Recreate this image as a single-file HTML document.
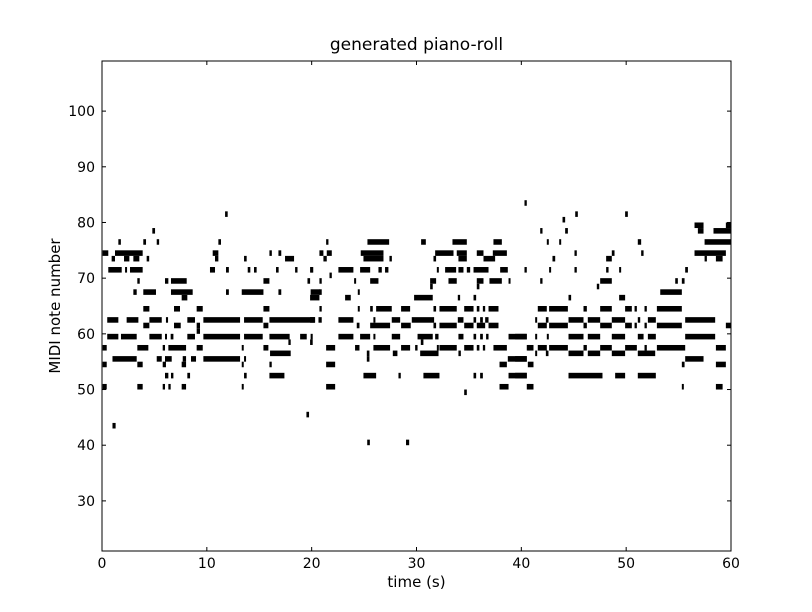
<!DOCTYPE html>
<html><head><meta charset="utf-8"><style>
html,body{margin:0;padding:0;background:#fff;}
svg{display:block;font-family:"DejaVu Sans","Liberation Sans",sans-serif;}
</style></head><body>
<svg id="chart" width="812" height="612" viewBox="0 0 812 612" xmlns="http://www.w3.org/2000/svg">
<rect x="0" y="0" width="812" height="612" fill="#fff"/>
<text x="416.5" y="50" font-size="17" text-anchor="middle">generated piano-roll</text>
<g id="notes"></g>
<g id="axes"></g>
<text x="416.5" y="587" font-size="15" text-anchor="middle">time (s)</text>
<text x="0" y="0" font-size="15" text-anchor="middle" transform="translate(60,306) rotate(-90)">MIDI note number</text>
</svg>
<script>
const xTicks = [0,10,20,30,40,50,60];
const yTicks = [30,40,50,60,70,80,90,100];
const xDomain = [0,60];
const yDomain = [21,109];
// notes: [pitch, start(s), end(s)]
const notes = [
[81,11.74,11.99],[78,4.8,5.06],[76,1.56,1.8],[76,3.94,4.2],[76,5.22,5.45],[76,11.1,11.35],
[74,0.06,0.6],[74,1.24,3.88],[74,10.56,11.1],[74,15.97,16.2],[74,16.83,17.1],
[73,0.92,1.24],[73,2.1,2.61],[73,2.99,3.56],[73,4.26,4.5],[73,10.78,11.1],[73,13.55,13.8],[73,17.46,18.32],
[71,0.6,1.88],[71,2.2,2.35],[71,2.67,3.88],[71,10.3,10.78],[71,11.83,12.1],[71,13.9,14.15],[71,14.5,14.75],[71,16.6,16.85],[71,18.42,18.65],[71,19.9,20.15],
[69,3.37,3.6],[69,6.01,6.33],[69,6.58,8.08],[69,15.4,15.97],[69,19.6,19.85],
[67,2.99,3.31],[67,3.94,5.15],[67,6.58,8.65],[66,7.6,8.14],[67,11.83,12.1],[67,13.33,15.4],[67,16.83,17.1],[67,19.9,20.8],
[64,3.94,4.52],[64,6.87,7.44],[64,9.03,9.61],[64,15.4,15.97],
[62,0.5,1.56],[62,2.35,3.47],[62,4.52,5.7],[62,6.1,6.3],[62,8.14,8.87],[62,9.67,13.17],[62,13.55,15.33],[62,15.97,20.3],
[61,3.94,4.52],[61,6.87,7.51],[61,9.03,9.35],[60,9.03,9.35],[61,15.4,15.87],
[59,0.5,1.56],[59,1.81,3.31],[59,4.52,5.7],[59,6.01,6.2],[59,6.55,6.81],[59,8.14,8.87],[59,9.67,13.17],[59,13.55,15.33],[59,15.97,17.9],[58,17.78,18.0],[59,18.9,19.53],[59,19.9,20.1],
[57,0.06,0.45],[57,3.37,4.42],[57,5.79,6.01],[57,6.33,8.02],[57,9.03,9.61],[57,13.33,13.49],[57,15.4,15.87],
[56,16.03,18.0],
[55,1.0,3.31],[55,5.22,5.7],[55,6.01,6.65],[55,7.7,8.02],[55,8.49,8.97],[55,9.67,13.17],[55,13.55,13.71],
[54,0.06,0.45],[54,3.37,3.88],[54,5.79,6.1],[54,7.6,8.02],[54,13.33,13.49],[54,15.97,16.19],
[52,6.01,6.33],[52,6.58,6.81],[52,8.14,8.4],[52,13.55,13.8],[52,15.97,17.4],
[50,0.06,0.45],[50,3.37,3.88],[50,5.79,6.01],[50,6.33,6.55],[50,7.6,8.02],[50,13.33,13.49],
[43,1.0,1.3],[45,19.5,19.75],
[83,40.3,40.52],
[76,21.38,21.6],[76,25.32,27.39],[76,30.44,30.89],[76,33.43,34.8],[76,37.34,38.14],
[74,20.74,21.12],[74,21.44,21.92],[74,24.68,26.85],[74,31.78,33.53],[74,33.84,34.8],[74,35.75,36.39],[74,37.28,38.62],
[73,21.12,21.44],[73,24.94,26.85],[73,27.42,27.65],[73,31.62,31.87],[73,34.0,34.8],[73,36.39,37.5],
[71,19.85,20.1],[71,22.55,23.98],[71,24.62,25.58],[71,26.37,26.69],[71,27.0,27.32],[71,31.94,32.1],[71,32.73,33.78],[71,34.0,34.48],[71,34.8,35.12],[71,35.44,36.87],[71,37.98,38.71],[71,40.3,40.52],
[70,21.7,21.92],
[69,20.74,20.96],[69,24.05,24.24],[69,25.58,26.37],[69,31.3,31.87],[68,31.3,31.55],[69,33.05,33.84],[69,35.75,36.39],[68,35.75,36.0],[69,36.96,38.14],[69,38.78,38.93],
[67,20.74,20.96],[67,24.4,24.56],
[66,19.85,20.74],[66,23.19,23.73],[66,29.77,31.55],[66,33.94,34.16],[66,35.44,35.69],
[64,20.74,20.96],[64,24.4,24.56],[64,25.58,25.83],[64,26.15,27.64],[64,28.53,29.39],[64,31.62,31.87],[64,32.19,33.84],[64,34.55,35.44],[64,35.75,36.0],[64,36.33,36.55],[64,36.87,37.82],
[62,19.85,20.33],[62,20.65,20.96],[62,22.55,23.98],[62,25.89,26.05],[62,27.64,28.44],[62,29.55,31.68],[62,33.94,34.48],[62,35.44,35.69],[62,36.07,36.33],[62,36.55,36.87],
[61,24.3,24.56],[61,25.58,27.48],[61,28.53,29.45],[61,31.62,31.87],[61,32.19,33.84],[61,34.55,35.44],[61,35.75,36.55],[61,36.87,37.82],
[59,22.55,23.98],[59,24.62,25.58],[59,25.89,26.05],[59,27.64,28.44],[59,30.1,31.55],[59,31.78,32.1],[59,34.0,34.48],[59,35.44,35.69],[59,36.07,36.33],[59,36.64,36.87],[59,38.78,40.52],
[58,19.85,20.1],[58,30.41,30.66],
[57,21.38,22.24],[57,24.14,24.56],[57,25.89,27.48],[57,28.53,29.39],[57,29.87,30.1],[57,31.94,32.1],[57,32.19,33.84],[57,34.55,35.44],[57,35.75,36.0],[57,36.33,36.55],[57,37.34,38.62],[57,40.52,40.84],
[56,25.26,25.51],[56,27.74,28.18],[56,30.35,32.1],[56,34.0,34.23],[55,25.26,25.51],
[54,21.38,22.24],[54,37.92,38.62],[55,38.71,40.52],
[52,24.94,26.15],[52,28.28,28.5],[52,30.66,32.19],[52,35.44,35.69],[52,36.07,36.33],[52,38.78,40.52],
[50,21.38,22.24],[50,37.92,38.78],[50,40.52,40.84],
[49,34.55,34.8],[40,25.3,25.55],[40,29.0,29.3],
[81,45.14,45.39],[81,49.9,50.16],[80,43.93,44.18],
[79,56.52,57.38],[79,59.51,60],
[78,41.8,42.02],[78,44.18,44.44],[78,56.84,57.38],[78,58.33,60],
[76,42.43,42.6],[76,43.61,43.8],[76,51.11,51.43],[76,57.48,60],
[74,45.07,45.29],[74,48.63,48.89],[74,51.43,51.66],[74,56.52,59.51],
[73,42.97,43.23],[73,48.09,48.63],[73,57.48,57.7],[73,58.56,59.2],
[71,42.65,42.84],[71,45.07,45.29],[71,48.09,48.32],[71,49.33,49.52],[71,55.63,55.89],
[69,41.8,42.02],[69,47.52,48.63],[68,47.2,47.43],[69,54.68,54.93],[69,55.31,55.57],
[67,53.25,55.31],[66,44.5,44.75],[66,49.33,49.9],
[64,41.57,42.43],[64,42.65,44.44],[64,45.93,46.25],[64,47.52,48.63],[64,49.9,50.54],[64,50.8,51.02],[64,51.75,51.97],[64,52.93,55.31],
[62,41.32,41.48],[62,42.34,42.59],[62,44.5,45.93],[62,46.34,47.52],[62,48.63,49.9],[62,51.11,51.34],[62,52.07,52.83],[62,55.63,58.49],
[61,41.57,42.43],[61,42.65,44.44],[61,45.93,46.25],[61,47.52,48.63],[61,49.9,50.54],[61,50.8,51.02],[61,51.75,51.97],[61,52.93,55.31],[61,59.51,60],
[59,39.41,40.52],[59,41.32,41.48],[59,42.43,42.59],[59,44.5,45.93],[59,46.34,47.52],[59,48.63,49.9],[59,51.11,51.66],[59,52.07,52.83],[59,55.63,58.49],
[57,40.62,41.16],[57,41.57,42.43],[57,42.65,44.44],[57,45.93,46.25],[57,47.52,48.63],[57,49.9,51.02],[57,51.75,51.97],[57,52.93,55.63],[57,58.56,59.51],
[56,41.32,41.48],[56,42.34,42.59],[56,44.5,45.93],[56,46.34,47.52],[56,48.63,49.9],[56,51.11,52.77],
[55,39.41,40.52],[55,55.63,57.38],
[54,40.62,41.16],[54,55.31,55.57],[54,58.56,59.51],
[52,39.41,40.52],[52,44.5,47.74],[52,48.95,49.9],[52,51.11,52.83],
[50,40.62,41.16],[50,55.31,55.47],[50,58.56,59.2]
];

const L=102, R=731, T=61, B=551;
const xs = v => L + (v - xDomain[0]) / (xDomain[1]-xDomain[0]) * (R-L);
const ys = v => B - (v - yDomain[0]) / (yDomain[1]-yDomain[0]) * (B-T);
const NS = 'http://www.w3.org/2000/svg';
const gN = document.getElementById('notes');
const gA = document.getElementById('axes');
function mk(tag, attrs){ const e=document.createElementNS(NS,tag); for(const k in attrs) e.setAttribute(k,attrs[k]); return e; }

notes.forEach(n => {
  const x1 = xs(n[1]), x2 = xs(n[2]);
  const y1 = ys(n[0] + 1), y2 = ys(n[0]);
  const r = mk('rect', {x:x1.toFixed(2), y:y1.toFixed(2), width:Math.max(2,x2-x1).toFixed(2), height:(y2-y1).toFixed(2), fill:'#000'});
  
  
  gN.appendChild(r);
});

const frame = mk('rect', {x:L, y:T, width:R-L, height:B-T, fill:'none', stroke:'#000', 'stroke-width':1});


gA.appendChild(frame);

xTicks.forEach(t => {
  const x = xs(t);
  const a = mk('line', {x1:x, x2:x, y1:B, y2:B-4, stroke:'#000'});
  
  
  gA.appendChild(a);
  const b = mk('line', {x1:x, x2:x, y1:T, y2:T+4, stroke:'#000'});
  
  
  gA.appendChild(b);
  const tx = mk('text', {x:x, y:B+17, 'font-size':14, 'text-anchor':'middle'});
  
  
  tx.textContent = t;
  gA.appendChild(tx);
});
yTicks.forEach(t => {
  const y = ys(t);
  const a = mk('line', {x1:L, x2:L+4, y1:y, y2:y, stroke:'#000'});
  
  
  gA.appendChild(a);
  const b = mk('line', {x1:R, x2:R-4, y1:y, y2:y, stroke:'#000'});
  
  
  gA.appendChild(b);
  const tx = mk('text', {x:L-7, y:y+5, 'font-size':14, 'text-anchor':'end'});
  
  
  tx.textContent = t;
  gA.appendChild(tx);
});
</script>
</body></html>
